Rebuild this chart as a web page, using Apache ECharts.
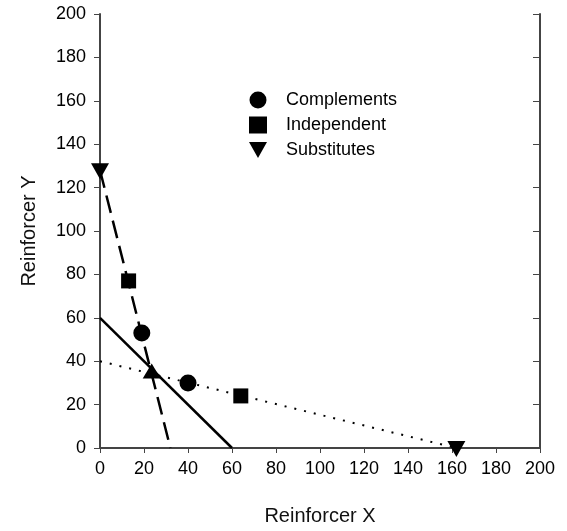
<!DOCTYPE html>
<html>
<head>
<meta charset="utf-8">
<script src="https://cdn.jsdelivr.net/npm/echarts@6/dist/echarts.min.js"></script>
<style>
  html, body { margin: 0; padding: 0; background: #fff; }
  #chart { width: 567px; height: 531px; }
</style>
</head>
<body>
<div id="chart"></div>
<script>
// points
var complements = [[19, 53], [40, 30]];
var independent = [[13, 77], [64, 24]];
var substitutes = [[0, 128], [162, 0]];
var substitutesUp = [[23.5, 35.5]];

// the three budget lines
var dashedLine = [[0, 128], [32, 0]];
var solidLine = [[0, 60], [60, 0]];
var dottedLine = [[0, 40], [162, 0]];

var axisColor = '#444';
var font = 'Liberation Sans, Arial, sans-serif';
var downTri = 'path://M0,0 L20,0 L10,18 Z';

var chart = echarts.init(document.getElementById('chart'));
chart.setOption({
  animation: false,
  grid: { left: 100, right: 27, top: 14, bottom: 80 },
  legend: {
    data: [
      { name: 'Complements', icon: 'circle' },
      { name: 'Independent', icon: 'rect' },
      { name: 'Substitutes', icon: downTri }
    ],
    orient: 'vertical',
    left: 244,
    top: 86,
    itemWidth: 18,
    itemHeight: 17,
    itemGap: 7,
    textStyle: { fontFamily: font, fontSize: 18, color: '#000', padding: [0, 0, 0, 14] }
  },
  xAxis: {
    type: 'value',
    min: 0, max: 200, interval: 20,
    name: 'Reinforcer X',
    nameLocation: 'middle',
    nameGap: 58,
    nameTextStyle: { fontFamily: font, fontSize: 20, color: '#111' },
    axisLine: { lineStyle: { color: axisColor, width: 2 } },
    axisTick: { show: true, inside: false, length: 5, lineStyle: { color: axisColor } },
    axisLabel: { fontFamily: font, fontSize: 18, color: '#000', margin: 12 },
    splitLine: { show: false }
  },
  yAxis: [{
    type: 'value',
    min: 0, max: 200, interval: 20,
    name: 'Reinforcer Y',
    nameLocation: 'middle',
    nameGap: 61,
    nameTextStyle: { fontFamily: font, fontSize: 20, color: '#111' },
    axisLine: { show: true, lineStyle: { color: axisColor, width: 2 } },
    axisTick: { show: true, inside: false, length: 6, lineStyle: { color: axisColor } },
    axisLabel: { fontFamily: font, fontSize: 18, color: '#000', margin: 14 },
    splitLine: { show: false }
  }, {
    type: 'value',
    position: 'right',
    min: 0, max: 200, interval: 20,
    axisLine: { show: true, lineStyle: { color: axisColor, width: 2 } },
    axisTick: { show: true, inside: true, length: 7, lineStyle: { color: axisColor } },
    axisLabel: { show: false },
    splitLine: { show: false }
  }],
  series: [
    {
      type: 'line', data: dashedLine, symbol: 'none', silent: true,
      lineStyle: { color: '#000', width: 2.5, type: [18, 8] }
    },
    {
      type: 'line', data: solidLine, symbol: 'none', silent: true,
      lineStyle: { color: '#000', width: 2.5 }
    },
    {
      type: 'line', data: dottedLine, symbol: 'none', silent: true,
      lineStyle: { color: '#000', width: 2, type: [2, 8] }
    },
    {
      name: 'Complements', type: 'scatter', data: complements, clip: false,
      symbol: 'circle', symbolSize: 17, itemStyle: { color: '#000', opacity: 1 }
    },
    {
      name: 'Independent', type: 'scatter', data: independent, clip: false,
      symbol: 'rect', symbolSize: 15, itemStyle: { color: '#000', opacity: 1 }
    },
    {
      name: 'Substitutes', type: 'scatter', data: substitutes, clip: false,
      symbol: downTri, symbolSize: [18, 16], symbolOffset: [0, 1],
      itemStyle: { color: '#000', opacity: 1 }
    },
    {
      type: 'scatter', data: substitutesUp, clip: false,
      symbol: 'triangle', symbolSize: [18, 15], itemStyle: { color: '#000', opacity: 1 }
    }
  ]
});
</script>
</body>
</html>
